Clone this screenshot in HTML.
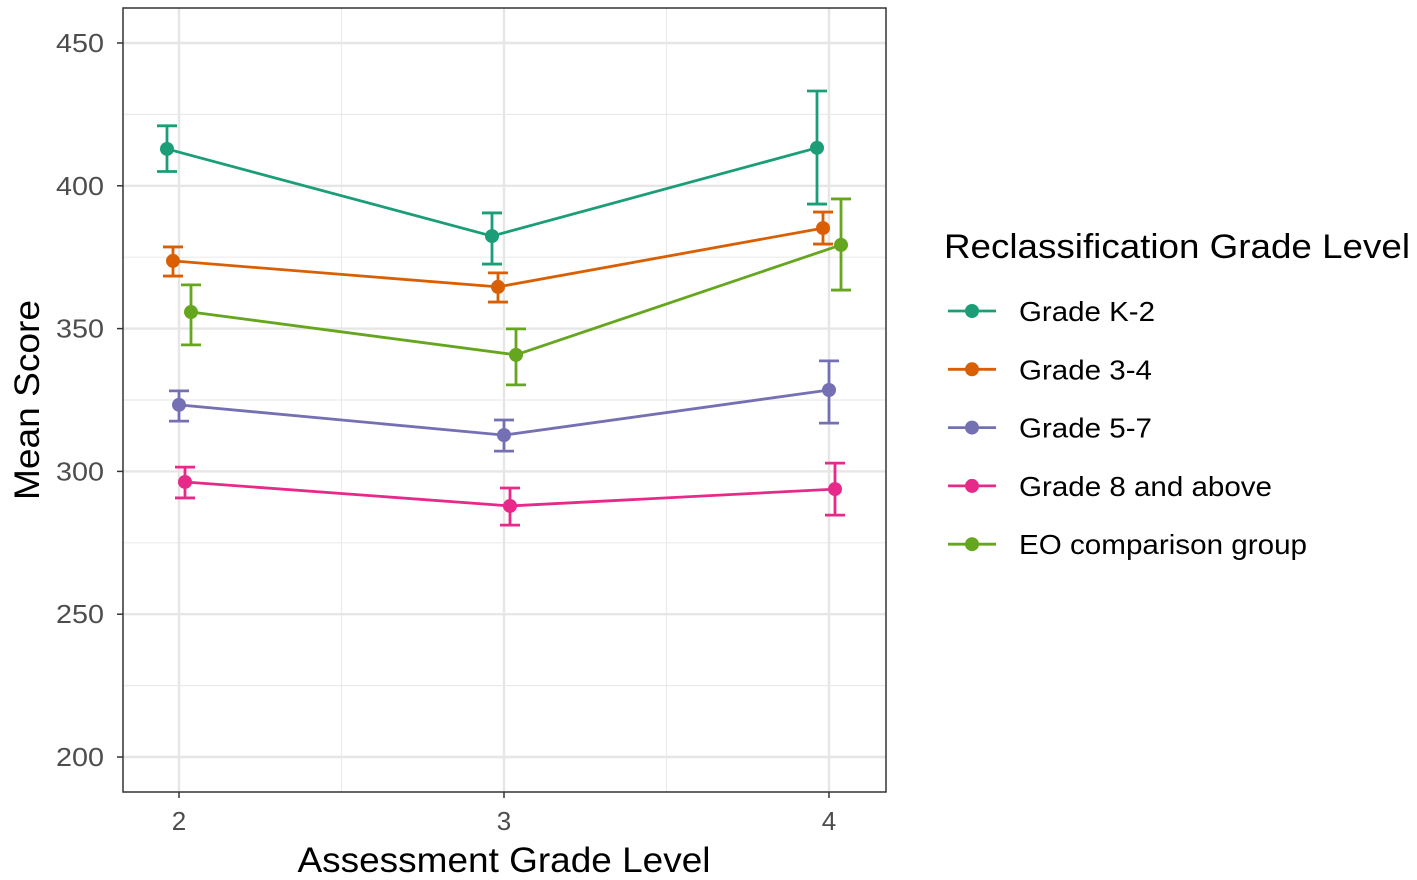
<!DOCTYPE html>
<html><head><meta charset="utf-8"><style>
body{margin:0;background:#fff;}
svg{display:block;font-family:"Liberation Sans",sans-serif;}
</style></head><body>
<svg id="chart" width="1417" height="880" viewBox="0 0 1417 880"></svg>
<script>
const grades = [2, 3, 4];
const seriesNames = ["Grade K-2", "Grade 3-4", "Grade 5-7", "Grade 8 and above", "EO comparison group"];
const seriesColors = ["#1B9E77", "#D95F02", "#7570B3", "#E7298A", "#66A61E"];
const meansK2 = [412.9, 382.4, 413.3];
const meansG34 = [373.7, 364.6, 385.2];
const meansG57 = [323.3, 312.7, 328.5];
const meansG8 = [296.3, 287.9, 293.8];
const meansEO = [355.8, 340.8, 379.3];
const lowK2 = [405, 372.6, 393.6], highK2 = [421, 390.5, 433.2];
const lowG34 = [368.4, 359.3, 379.6], highG34 = [378.6, 369.5, 390.8];
const lowG57 = [317.6, 307.1, 316.9], highG57 = [328.2, 318, 338.7];
const lowG8 = [290.7, 281.2, 284.7], highG8 = [301.5, 294.2, 302.9];
const lowEO = [344.3, 330.3, 363.5], highEO = [365.3, 349.9, 395.4];
const yTicks = [200, 250, 300, 350, 400, 450];
const yMinor = [225, 275, 325, 375, 425];
const xTicks = [2, 3, 4];
const xMinor = [2.5, 3.5];
const legendWidths = [136, 133, 133, 253, 288];

const means = [meansK2, meansG34, meansG57, meansG8, meansEO];
const lows = [lowK2, lowG34, lowG57, lowG8, lowEO];
const highs = [highK2, highG34, highG57, highG8, highEO];
const NS = "http://www.w3.org/2000/svg";
const svg = document.getElementById("chart");
const P = {l:123, r:886, t:8, b:792};
const xs = v => 179 + (v - 2) * 325;
const ys = v => 757 - (v - 200) * 2.856;
function el(tag, attrs, parent){ const e=document.createElementNS(NS,tag); for(const k in attrs) e.setAttribute(k,attrs[k]); (parent||svg).appendChild(e); return e; }

const grid = el("g",{});


yMinor.forEach(v=>el("line",{x1:P.l,x2:P.r,y1:ys(v),y2:ys(v),stroke:"#ebebeb","stroke-width":1.2},grid));
xMinor.forEach(v=>el("line",{x1:xs(v),x2:xs(v),y1:P.t,y2:P.b,stroke:"#ebebeb","stroke-width":1.2},grid));
yTicks.forEach(v=>el("line",{x1:P.l,x2:P.r,y1:ys(v),y2:ys(v),stroke:"#e6e6e6","stroke-width":2.4},grid));
xTicks.forEach(v=>el("line",{x1:xs(v),x2:xs(v),y1:P.t,y2:P.b,stroke:"#e6e6e6","stroke-width":2.4},grid));

const yAxis = el("g",{});


yTicks.forEach(v=>{
  el("line",{x1:P.l-6,x2:P.l,y1:ys(v),y2:ys(v),stroke:"#333","stroke-width":1.5},yAxis);
  const t=el("text",{x:104,y:ys(v)+9,"text-anchor":"end","font-size":26,fill:"#4d4d4d",textLength:48,lengthAdjust:"spacingAndGlyphs"},yAxis); t.textContent=v;
});
const xAxis = el("g",{});


xTicks.forEach(v=>{
  el("line",{x1:xs(v),x2:xs(v),y1:P.b,y2:P.b+6,stroke:"#333","stroke-width":1.5},xAxis);
  const t=el("text",{x:xs(v),y:P.b+38,"text-anchor":"middle","font-size":26,fill:"#4d4d4d"},xAxis); t.textContent=v;
});

const offsets = [-12,-6,0,6,12];
means.forEach((m,i)=>{
  const g = el("g",{});
  
  
  const c=seriesColors[i];
  const px = grades.map(x=>xs(x)+offsets[i]);
  el("polyline",{points:px.map((x,j)=>x+","+ys(m[j])).join(" "),fill:"none",stroke:c,"stroke-width":2.8},g);
  grades.forEach((x,j)=>{
    const X=px[j], lo=ys(lows[i][j]), hi=ys(highs[i][j]);
    el("path",{d:`M${X-10},${hi}H${X+10}M${X},${hi}V${lo}M${X-10},${lo}H${X+10}`,stroke:c,"stroke-width":2.8,fill:"none"},g);
    el("circle",{cx:X,cy:ys(m[j]),r:7,fill:c},g);
  });
});

el("rect",{x:P.l,y:P.t,width:P.r-P.l,height:P.b-P.t,fill:"none",stroke:"#333","stroke-width":1.5});

const yt=el("text",{x:0,y:0,transform:"translate(39,400) rotate(-90)","text-anchor":"middle","font-size":35,fill:"#000",textLength:200,lengthAdjust:"spacingAndGlyphs"});


yt.textContent="Mean Score";
const xt=el("text",{x:504,y:872,"text-anchor":"middle","font-size":35,fill:"#000",textLength:413,lengthAdjust:"spacingAndGlyphs"});


xt.textContent="Assessment Grade Level";

const lg=el("g",{});


const lt=el("text",{x:944,y:258,"font-size":34,fill:"#000",textLength:466,lengthAdjust:"spacingAndGlyphs"},lg);


lt.textContent="Reclassification Grade Level";
seriesNames.forEach((n,i)=>{
  const y=311+i*58.3;
  const e=el("g",{},lg);
  
  
  el("line",{x1:948,x2:996,y1:y,y2:y,stroke:seriesColors[i],"stroke-width":2.8},e);
  el("circle",{cx:972,cy:y,r:7,fill:seriesColors[i]},e);
  const t=el("text",{x:1019,y:y+10,"font-size":28,fill:"#000",textLength:legendWidths[i],lengthAdjust:"spacingAndGlyphs"},e); t.textContent=n;
});
</script>
</body></html>
